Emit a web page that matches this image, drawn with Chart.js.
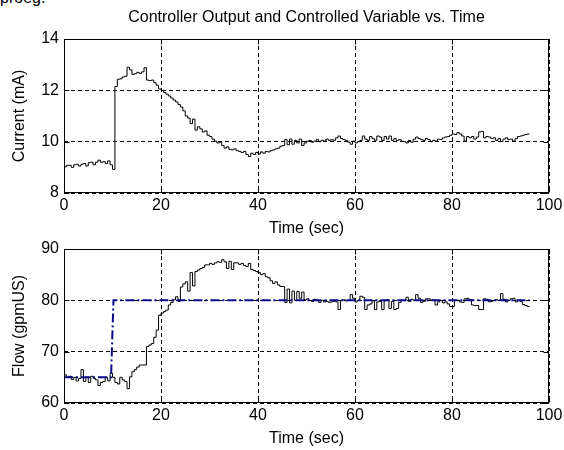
<!DOCTYPE html>
<html><head><meta charset="utf-8">
<script src="https://cdn.jsdelivr.net/npm/chart.js@4.4.0/dist/chart.umd.min.js"></script>
<style>
html,body{margin:0;padding:0;background:#fff;width:564px;height:450px;overflow:hidden;position:relative;font-family:"Liberation Sans",Arial,sans-serif;}
#frag{position:absolute;left:0;top:-10px;font-size:16px;line-height:16px;color:#000;white-space:nowrap;}
#c1{position:absolute;left:0;top:0;}
#c2{position:absolute;left:0;top:240px;}
</style></head><body>
<div id="frag">proeg.</div>
<canvas id="c1" width="564" height="240"></canvas>
<canvas id="c2" width="564" height="210"></canvas>
<script>
// ---------------- data ----------------
const FIGURE_TITLE = 'Controller Output and Controlled Variable vs. Time';
const X_TITLE = 'Time (sec)';
const TOP_Y_TITLE = 'Current (mA)';
const BOTTOM_Y_TITLE = 'Flow (gpmUS)';
const SAMPLE_INTERVAL = 0.5; // sec between samples
const X_TICKS = [0, 20, 40, 60, 80, 100];
const TOP_Y_TICKS = [8, 10, 12, 14];
const BOTTOM_Y_TICKS = [60, 70, 80, 90];

// controller output (mA), one value every 0.5 s from t = 0 to 96 s
const CURRENT = [
  9.02, 9.08, 9.08, 9.0, 9.1, 9.12, 9.05, 9.12, 9.15, 9.05,
  9.18, 9.2, 9.1, 9.2, 9.28, 9.2, 9.22, 9.15, 9.25, 9.1,
  8.92, 12.15, 12.43, 12.45, 12.52, 12.55, 12.9, 12.8, 12.62, 12.65,
  12.7, 12.66, 12.72, 12.88, 12.4, 12.38, 12.4, 12.3, 12.2, 12.05,
  12.0, 11.92, 11.85, 11.78, 11.7, 11.62, 11.55, 11.45, 11.35, 11.2,
  11.0, 10.92, 10.7, 10.88, 10.45, 10.58, 10.5, 10.38, 10.42, 10.25,
  10.2, 10.1, 10.02, 9.95, 9.98, 9.85, 9.75, 9.8, 9.7, 9.68,
  9.72, 9.65, 9.62, 9.58, 9.62, 9.5, 9.42, 9.55, 9.5, 9.58,
  9.52, 9.6, 9.55, 9.62, 9.6, 9.65, 9.68, 9.72, 9.75, 9.82,
  9.85, 10.08, 9.88, 10.1, 9.9, 10.05, 9.95, 10.1, 9.85, 9.95,
  10.02, 10.05, 9.98, 10.02, 10.08, 10.0, 10.05, 10.02, 10.1, 10.05,
  10.08, 10.05, 10.15, 10.22, 10.12, 10.08, 10.05, 9.98, 9.9, 10.02,
  9.95, 10.0, 10.05, 10.22, 10.1, 10.05, 10.2, 10.12, 10.05, 10.22,
  10.18, 10.05, 10.2, 10.1, 10.22, 10.05, 10.12, 10.05, 10.08, 10.02,
  10.0, 9.95, 10.05, 9.98, 10.1, 10.18, 10.12, 10.08, 10.05, 10.12,
  10.08, 10.0, 10.05, 10.02, 10.1, 10.08, 10.15, 10.18, 10.2, 10.25,
  10.3, 10.28, 10.35, 10.3, 10.22, 10.02, 10.2, 10.15, 10.2, 10.1,
  10.18, 10.38, 10.4, 10.15, 10.2, 10.18, 10.12, 10.15, 10.05, 10.12,
  10.0, 10.1, 10.15, 10.08, 10.1, 10.02, 10.12, 10.2, 10.22, 10.25,
  10.28, 10.3, 10.3
];

// measured flow (gpmUS), one value every 0.5 s from t = 0 to 96 s
const FLOW = [
  65.5, 65.0, 65.2, 64.6, 65.0, 64.3, 64.8, 66.5, 64.2, 65.0,
  64.0, 65.2, 64.8, 64.5, 63.4, 64.0, 64.2, 65.0, 64.3, 65.8,
  65.0, 64.0, 63.7, 65.0, 64.5, 64.2, 62.8, 65.1, 66.1, 66.5,
  67.0, 67.4, 67.4, 67.4, 71.0, 71.3, 71.6, 72.8, 74.2, 77.1,
  77.5, 77.8, 78.1, 79.1, 79.6, 80.1, 80.7, 79.8, 82.6, 83.2,
  83.6, 81.8, 85.4, 82.8, 85.6, 85.9, 86.2, 86.4, 86.9, 86.9,
  87.2, 87.0, 87.3, 87.5, 87.4, 87.9, 87.5, 86.2, 87.6, 86.0,
  87.3, 87.3, 87.0, 87.2, 86.8, 86.6, 87.2, 86.0, 85.8, 85.6,
  85.4, 85.0, 85.2, 84.6, 84.4, 83.8, 83.3, 83.6, 83.0, 82.7,
  82.7, 79.6, 82.2, 79.5, 81.8, 80.0, 81.7, 80.4, 81.6, 80.1,
  80.3, 80.0, 79.8, 80.2, 80.0, 79.6, 80.0, 79.7, 79.8, 79.6,
  79.7, 79.8, 79.7, 78.2, 80.0, 80.1, 79.9, 80.0, 81.1, 80.4,
  79.7, 80.0, 80.8, 80.6, 78.2, 79.1, 79.3, 79.9, 78.2, 79.7,
  79.8, 78.2, 79.9, 80.1, 78.4, 79.8, 78.2, 78.4, 79.6, 80.0,
  80.0, 80.6, 79.8, 80.2, 80.0, 81.1, 80.4, 79.6, 79.8, 80.3,
  80.3, 80.0, 80.1, 79.1, 79.7, 80.0, 79.5, 79.7, 79.3, 78.8,
  78.8, 80.0, 80.0, 79.7, 79.6, 80.3, 80.4, 80.1, 79.1, 79.0,
  79.0, 78.2, 78.2, 80.3, 80.2, 79.7, 79.8, 80.0, 80.1, 80.0,
  81.3, 80.2, 79.7, 80.0, 80.3, 80.4, 79.7, 80.0, 79.8, 79.2,
  79.0, 78.8, 78.8
];

// setpoint (gpmUS)
const SETPOINT_TIMES = [0, 9.7, 10.2, 96];
const SETPOINT_VALUES = [65, 65, 80, 80];

// ---------------- chart ----------------
const FONT = {family: '"Liberation Sans", Arial, sans-serif', size: 16};
const timeOf = i => i * SAMPLE_INTERVAL;
const toPoints = arr => arr.map((v, i) => ({x: timeOf(i), y: v}));

const boxPlugin = {
  id: 'matlabBox',
  afterDraw(chart) {
    const {ctx, chartArea: a, scales} = chart;
    const L = Math.round(a.left) + 0.5, R = Math.round(a.right) - 0.5;
    const T = Math.round(a.top) + 0.5, B = Math.round(a.bottom) - 0.5;
    ctx.save();
    ctx.setLineDash([]);
    ctx.strokeStyle = '#000';
    ctx.lineWidth = 1;
    ctx.beginPath();
    scales.x.ticks.forEach(t => {
      const px = Math.round(scales.x.getPixelForValue(t.value)) + 0.5;
      ctx.moveTo(px, B); ctx.lineTo(px, B - 5);
      ctx.moveTo(px, T); ctx.lineTo(px, T + 5);
    });
    scales.y.ticks.forEach(t => {
      const py = Math.round(scales.y.getPixelForValue(t.value)) + 0.5;
      ctx.moveTo(L, py); ctx.lineTo(L + 5, py);
      ctx.moveTo(R, py); ctx.lineTo(R - 5, py);
    });
    ctx.stroke();
    ctx.strokeRect(L, T, R - L, B - T);
    ctx.restore();
  }
};

function xScale() {
  return {
    type: 'linear', min: X_TICKS[0], max: X_TICKS[X_TICKS.length - 1],
    afterBuildTicks: s => { s.ticks = X_TICKS.map(v => ({value: v})); },
    ticks: {color: '#000', font: FONT, padding: 3, maxRotation: 0, autoSkip: false},
    grid: {color: '#000', lineWidth: 1, drawTicks: false},
    border: {display: false, dash: [4, 3]},
    title: {display: true, text: X_TITLE, color: '#000', font: FONT, padding: {top: 0, bottom: 2}},
    afterFit: s => { s.height = 47; s.paddingLeft = 0; s.paddingRight = 0; }
  };
}
function yScale(ticks, title) {
  return {
    type: 'linear', min: ticks[0], max: ticks[ticks.length - 1],
    afterBuildTicks: s => { s.ticks = ticks.map(v => ({value: v})); },
    ticks: {color: '#000', font: FONT, padding: 5, autoSkip: false},
    grid: {color: '#000', lineWidth: 1, drawTicks: false},
    border: {display: false, dash: [4, 3]},
    title: {display: true, text: title, color: '#000', font: FONT, padding: {top: 10, bottom: 0}},
    afterFit: s => { s.width = 64; s.paddingTop = 0; s.paddingBottom = 0; }
  };
}

new Chart(document.getElementById('c1'), {
  type: 'line',
  data: {datasets: [{
    data: toPoints(CURRENT), borderColor: '#000', borderWidth: 1,
    pointRadius: 0, stepped: true, fill: false
  }]},
  options: {
    responsive: false, animation: false, events: [],
    layout: {padding: {left: 0, right: 15, top: 0, bottom: 0}},
    plugins: {
      legend: {display: false}, tooltip: {enabled: false},
      title: {display: true, text: FIGURE_TITLE, color: '#000', font: {...FONT, weight: 'normal'},
              fullSize: false, padding: {top: 8, bottom: 11.8}}
    },
    scales: {x: xScale(), y: yScale(TOP_Y_TICKS, TOP_Y_TITLE)}
  },
  plugins: [boxPlugin]
});

new Chart(document.getElementById('c2'), {
  type: 'line',
  data: {datasets: [
    {data: SETPOINT_TIMES.map((t, i) => ({x: t, y: SETPOINT_VALUES[i]})),
     borderColor: '#0a0a8a', borderWidth: 2, borderDash: [9, 3, 2, 3],
     pointRadius: 0, fill: false, order: 0},
    {data: toPoints(FLOW), borderColor: '#000', borderWidth: 1,
     pointRadius: 0, stepped: true, fill: false, order: 1}
  ]},
  options: {
    responsive: false, animation: false, events: [],
    layout: {padding: {left: 0, right: 15, top: 9, bottom: 0}},
    plugins: {legend: {display: false}, tooltip: {enabled: false}},
    scales: {x: xScale(), y: yScale(BOTTOM_Y_TICKS, BOTTOM_Y_TITLE)}
  },
  plugins: [boxPlugin]
});
</script>
</body></html>
